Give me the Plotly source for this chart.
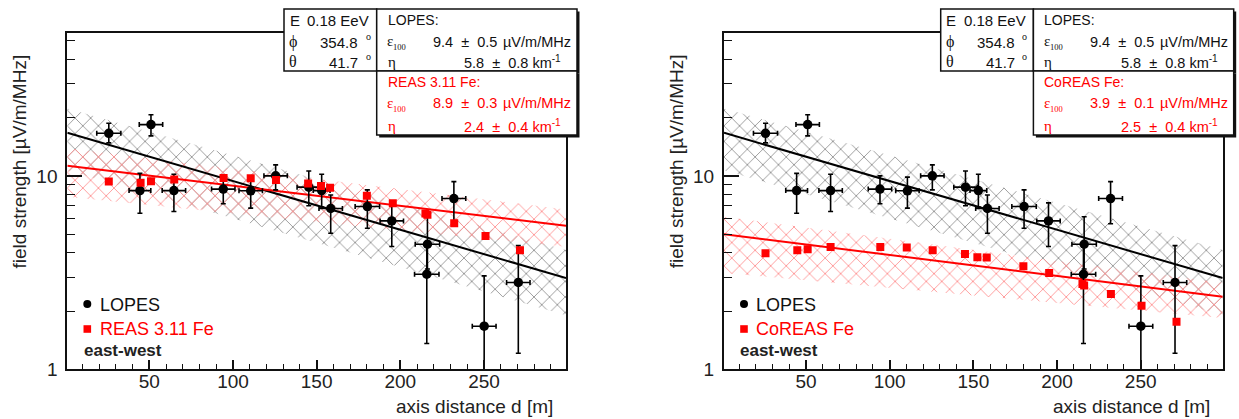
import numpy as np
import plotly.graph_objects as go

W, H = 1239, 419
FONT = "Liberation Sans, Arial, sans-serif"
SERIF = "Liberation Serif, Times New Roman, serif"
RED = "#ff0000"

# LOPES measurement, east-west polarisation (same event in both panels)
lopes_d = [25.8, 51.0, 44.4, 64.7, 94.2, 110.6, 125.5, 145.3, 153.0, 158.4,
           180.3, 194.9, 216.2, 215.8, 232.0, 250.1, 270.5]
lopes_v = [16.6, 18.4, 8.39, 8.39, 8.54, 8.37, 10.0, 8.74, 8.39, 6.78,
           6.94, 5.85, 4.43, 3.10, 7.63, 1.67, 2.81]
lopes_hi = [18.7, 20.7, 10.3, 10.2, 10.0, 9.85, 11.4, 10.6, 10.2, 7.96,
            8.46, 7.25, 6.15, 4.40, 9.34, 3.04, 4.36]
lopes_lo = [14.8, 16.1, 6.41, 6.54, 7.17, 6.81, 8.46, 7.00, 6.90, 5.05,
            5.36, 4.31, 3.30, 1.36, 5.65, 0.30, 1.21]
lopes_dd = [7.2, 7.0, 6.5, 7.0, 7.0, 7.0, 7.0, 7.0, 5.0, 7.0,
            7.3, 7.0, 7.3, 7.3, 7.1, 7.1, 7.0]

# simulations
reas_d = [25.8, 44.8, 51.0, 64.9, 94.4, 110.6, 125.7, 144.9, 152.6, 158.0,
          180.0, 195.5, 215.0, 216.2, 232.2, 250.9, 271.5]
reas_v = [9.34, 9.20, 9.37, 9.57, 9.76, 9.73, 9.53, 9.12, 8.85, 8.67,
          7.88, 7.22, 6.38, 6.30, 5.69, 4.88, 4.13]
coreas_d = [25.8, 44.8, 51.0, 64.7, 94.4, 110.2, 125.7, 145.0, 152.4, 158.0,
            179.9, 195.3, 215.2, 216.2, 232.2, 250.5, 271.4]
coreas_v = [3.98, 4.13, 4.18, 4.29, 4.29, 4.26, 4.13, 3.95, 3.80, 3.78,
            3.41, 3.15, 2.76, 2.71, 2.45, 2.13, 1.76]

# exponential fits: eps100 [uV/m/MHz], eta [1/km]
lopes_fit = (9.4, 0.5, 5.8, 0.8)
reas_fit = (8.9, 0.3, 2.4, 0.4)
coreas_fit = (3.9, 0.1, 2.5, 0.4)

# uncertainty bands, edges at the ends of the distance range
band_d = [1, 299]
lopes_band_lo = [10.7, 1.90]
lopes_band_hi = [22.3, 4.14]
reas_band_lo = [7.8, 4.3]
reas_band_hi = [13.9, 6.7]
coreas_band_lo = [3.15, 1.84]
coreas_band_hi = [6.15, 2.80]

x_ticks = [50, 100, 150, 200, 250]
y_ticks = [1, 10]
y_minor = [2, 3, 4, 5, 6, 7, 8, 9, 20, 30, 40, 50]

# pixel geometry of the two frames
FRAME_L, FRAME_R, FRAME_T, FRAME_B = 67.3, 566.0, 32.5, 369.3
DX = 656.7


def px(x):
    return x / W


def py(y):
    return 1 - y / H


fig = go.Figure()
d_fit = np.linspace(band_d[0], band_d[1], 60)

panels = [
    (1, 0.0, "REAS 3.11 Fe", reas_d, reas_v, reas_fit, reas_band_lo, reas_band_hi),
    (2, DX, "CoREAS Fe", coreas_d, coreas_v, coreas_fit, coreas_band_lo, coreas_band_hi),
]

shapes = []
ann = []


def text(x, y, s, size=14, color="#111", anchor="left", family=FONT, **kw):
    ann.append(dict(x=px(x), y=py(y), xref="paper", yref="paper", text=s,
                    showarrow=False, xanchor=anchor, yanchor="middle",
                    font=dict(family=family, size=size, color=color), **kw))


def box(x0, y0, x1, y1, shadow=True):
    if shadow:
        shapes.append(dict(type="rect", xref="paper", yref="paper",
                           x0=px(x0 + 2.5), x1=px(x1 + 2.5), y0=py(y0 + 2.5), y1=py(y1 + 2.5),
                           line=dict(width=0), fillcolor="#111", layer="above"))
    shapes.append(dict(type="rect", xref="paper", yref="paper",
                       x0=px(x0), x1=px(x1), y0=py(y0), y1=py(y1),
                       line=dict(color="#111", width=1.5), fillcolor="white", layer="above"))


for idx, dx, sim_name, sd, sv, sfit, blo, bhi in panels:
    xa = "x" if idx == 1 else "x2"
    ya = "y" if idx == 1 else "y2"

    # hatched uncertainty bands
    for lo, hi, col in [(lopes_band_lo, lopes_band_hi, "rgb(150,150,150)"),
                        (blo, bhi, "rgb(255,150,150)")]:
        fig.add_trace(go.Scatter(
            x=band_d + band_d[::-1] + [band_d[0]], y=lo + hi[::-1] + [lo[0]],
            mode="lines", line=dict(width=0), fill="toself",
            fillcolor="rgba(0,0,0,0)",
            fillpattern=dict(shape="x", fgcolor=col, bgcolor="rgba(0,0,0,0)",
                             fgopacity=1, size=11, solidity=0.16, fillmode="overlay"),
            xaxis=xa, yaxis=ya, showlegend=False, hoverinfo="skip"))

    # fitted exponentials
    for (eps, _, eta, _), col in [(lopes_fit, "black"), (sfit, RED)]:
        fig.add_trace(go.Scatter(
            x=d_fit, y=eps * np.exp(-eta * (d_fit - 100) / 1000.0),
            mode="lines", line=dict(color=col, width=2),
            xaxis=xa, yaxis=ya, showlegend=False, hoverinfo="skip"))

    # LOPES points with errors
    v = np.array(lopes_v)
    fig.add_trace(go.Scatter(
        x=lopes_d, y=lopes_v, mode="markers",
        marker=dict(symbol="circle", size=9.5, color="black"),
        error_y=dict(type="data", symmetric=False,
                     array=list(np.array(lopes_hi) - v),
                     arrayminus=list(v - np.array(lopes_lo)),
                     color="black", thickness=1.6, width=2.5),
        error_x=dict(type="data", array=lopes_dd, color="black", thickness=1.6, width=2.5),
        xaxis=xa, yaxis=ya, showlegend=False))

    # simulation points
    fig.add_trace(go.Scatter(
        x=sd, y=sv, mode="markers",
        marker=dict(symbol="square", size=8, color=RED),
        xaxis=xa, yaxis=ya, showlegend=False))

    # legend
    shapes.append(dict(type="circle", xref="paper", yref="paper",
                       x0=px(dx + 83.3), x1=px(dx + 91.3), y0=py(300), y1=py(308),
                       fillcolor="black", line=dict(width=0)))
    shapes.append(dict(type="rect", xref="paper", yref="paper",
                       x0=px(dx + 83.5), x1=px(dx + 91.1), y0=py(325.2), y1=py(332.8),
                       fillcolor=RED, line=dict(width=0)))
    text(dx + 97.5, 305, "LOPES", size=18, color="#111")
    text(dx + 97.5, 329, sim_name, size=18, color=RED)
    text(dx + 81.5, 350.7, "<b>east-west</b>", size=17, color="#222")

    # axis titles
    text(dx + 19.8, 161.7, "field strength [µV/m/MHz]", size=19, color="#222",
         anchor="center", textangle=-90)
    text(dx + 555, 406, "axis distance d [m]", size=19, color="#222", anchor="right")

    # info boxes
    box(dx + 284, 9, dx + 376.7, 71, shadow=False)
    box(dx + 376.7, 9, dx + 577, 71)
    box(dx + 376.7, 71, dx + 577, 135)

    text(dx + 287.5, 20.7, "E", size=15)
    text(dx + 371, 20.7, "0.18 EeV", size=15, anchor="right")
    text(dx + 287, 41.7, "ϕ", size=16, family=SERIF)
    text(dx + 360, 42.5, "354.8", size=15, anchor="right")
    text(dx + 363.5, 36.5, "o", size=10, family=SERIF)
    text(dx + 287, 61.5, "θ", size=16, family=SERIF)
    text(dx + 360, 62.5, "41.7", size=15, anchor="right")
    text(dx + 363.5, 56.5, "o", size=10, family=SERIF)

    rows = [(lopes_fit, "LOPES:", "#111", 19.5, 41.7, 61.5),
            (sfit, sim_name + ":", RED, 82, 103.5, 126)]
    for (eps, deps, eta, deta), head, col, yh, ye, yn in rows:
        text(dx + 385.5, yh, head, size=14, color=col)
        text(dx + 385, ye - 1, "ε", size=15, color=col, family=SERIF)
        text(dx + 391, ye + 5.5, "100", size=8.5, color=col, family=SERIF)
        text(dx + 431, ye, f"{eps:.1f}  ±  {deps:.1f}", size=14.5, color=col)
        text(dx + 501, ye, "µV/m/MHz", size=14.5, color=col)
        text(dx + 385.5, yn, "η", size=15, color=col, family=SERIF)
        text(dx + 462, yn, f"{eta:.1f}  ±  {deta:.1f} km<sup>-1</sup>", size=14.5, color=col)

axis_common = dict(showgrid=False, zeroline=False, showline=True, linewidth=2,
                   linecolor="#111", mirror=True, ticks="inside", tickcolor="#111",
                   automargin=False,
                   tickfont=dict(family=FONT, size=19, color="#222"))
x_common = dict(axis_common, range=[1, 299], tickvals=x_ticks, ticklen=9, tickwidth=1.5,
                minor=dict(dtick=10, tick0=0, ticks="inside", ticklen=5,
                           tickwidth=1.3, tickcolor="#111"),
                ticklabelstandoff=-6)
y_common = dict(axis_common, type="log", range=[0, 1.741], tickvals=y_ticks,
                ticktext=["1", "10"], ticklen=15, tickwidth=1.5,
                minor=dict(tickvals=y_minor, ticks="inside", ticklen=8,
                           tickwidth=1.3, tickcolor="#111"),
                ticklabelstandoff=4)

fig.update_layout(
    width=W, height=H, autosize=False,
    margin=dict(l=0, r=0, t=0, b=0, pad=0, autoexpand=False),
    paper_bgcolor="white", plot_bgcolor="white", showlegend=False,
    xaxis=dict(x_common, domain=[px(FRAME_L), px(FRAME_R)], anchor="y"),
    yaxis=dict(y_common, domain=[py(FRAME_B), py(FRAME_T)], anchor="x"),
    xaxis2=dict(x_common, domain=[px(FRAME_L + DX), px(FRAME_R + DX)], anchor="y2"),
    yaxis2=dict(y_common, domain=[py(FRAME_B), py(FRAME_T)], anchor="x2"),
    shapes=shapes, annotations=ann,
)

fig.write_html("out.html", config={"responsive": False, "displayModeBar": False})
